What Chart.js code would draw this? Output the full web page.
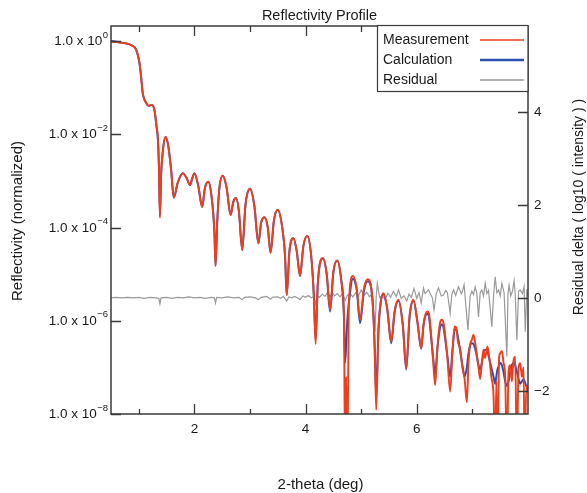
<!DOCTYPE html>
<html>
<head>
<meta charset="utf-8">
<script src="https://cdn.jsdelivr.net/npm/chart.js@4.4.1/dist/chart.umd.min.js"></script>
<style>
  html, body { margin: 0; padding: 0; background: #ffffff; }
  canvas { display: block; }
</style>
</head>
<body>
<canvas id="c" width="587" height="493"></canvas>
<script>
// ---------------- data ----------------
const chartTitle = "Reflectivity Profile";
const xTitle = "2-theta (deg)";
const yTitle = "Reflectivity (normalized)";
const y2Title = "Residual delta ( log10 ( intensity ) )";
const seriesNames = ["Measurement", "Calculation", "Residual"];

const xMajorTicks = [2, 4, 6];
const xMinorTicks = [1, 3, 5, 7];
const yLeftTicks = [1e-8, 1e-6, 1e-4, 1e-2, 1];
const yLeftTickMantissa = "1.0 x 10";
const yLeftTickExponents = ["-8", "-6", "-4", "-2", "0"];
const yRightTicks = [-2, 0, 2, 4];

const twoTheta = [
  0.50, 0.60, 0.70, 0.80, 0.88, 0.95, 1.01, 1.04, 1.07, 1.10,
  1.13, 1.16, 1.19, 1.22, 1.25, 1.29, 1.32, 1.34, 1.36, 1.38,
  1.40, 1.43, 1.48, 1.53, 1.58, 1.63, 1.70, 1.79, 1.86, 1.92,
  1.96, 2.00, 2.07, 2.14, 2.19, 2.25, 2.31, 2.36, 2.38, 2.41,
  2.45, 2.51, 2.58, 2.65, 2.70, 2.75, 2.80, 2.86, 2.92, 3.00,
  3.08, 3.15, 3.20, 3.26, 3.32, 3.37, 3.43, 3.50, 3.58, 3.63,
  3.66, 3.71, 3.78, 3.84, 3.90, 3.96, 4.03, 4.10, 4.15, 4.18,
  4.22, 4.31, 4.38, 4.44, 4.50, 4.57, 4.65, 4.69, 4.71, 4.73,
  4.75, 4.78, 4.85, 4.92, 4.98, 5.05, 5.12, 5.20, 5.24, 5.27,
  5.31, 5.35, 5.40, 5.47, 5.54, 5.60, 5.67, 5.75, 5.81, 5.87,
  5.94, 6.01, 6.08, 6.12, 6.16, 6.19, 6.22, 6.25, 6.29, 6.33,
  6.37, 6.41, 6.44, 6.47, 6.50, 6.55, 6.60, 6.64, 6.68, 6.71,
  6.74, 6.78, 6.82, 6.86, 6.90, 6.93, 6.96, 6.99, 7.02, 7.06,
  7.10, 7.14, 7.17, 7.20, 7.23, 7.27, 7.30, 7.34, 7.38, 7.41,
  7.43, 7.45, 7.48, 7.50, 7.53, 7.56, 7.59, 7.62, 7.65, 7.68,
  7.71, 7.74, 7.77, 7.80, 7.83, 7.86, 7.89, 7.92, 7.94, 7.97,
  8.00
];

const measurement = [
  0.97, 0.955, 0.912, 0.871, 0.794, 0.661, 0.347, 0.178, 0.0776, 0.0562,
  0.0479, 0.0417, 0.0407, 0.0427, 0.0417, 0.0288, 0.0141, 0.00912, 0.00251, 1.62e-4,
  1.26e-3, 4.07e-3, 8.71e-3, 5.62e-3, 1.78e-3, 4.37e-4, 9.12e-4, 1.45e-3, 1.15e-3, 8.13e-4,
  1.12e-3, 1.45e-3, 7.76e-4, 2.75e-4, 7.08e-4, 9.55e-4, 4.47e-4, 7.94e-5, 1.51e-5, 1.26e-4,
  7.08e-4, 1.29e-3, 7.08e-4, 1.86e-4, 3.55e-4, 4.27e-4, 2.24e-4, 3.31e-5, 3.16e-4, 6.76e-4,
  2.82e-4, 4.57e-5, 1.26e-4, 1.66e-4, 1.0e-4, 2.88e-5, 1.41e-4, 2.40e-4, 1.0e-4, 2.51e-5,
  3.55e-6, 3.16e-5, 5.89e-5, 3.16e-5, 9.12e-6, 3.98e-5, 6.61e-5, 2.51e-5, 3.16e-6, 3.16e-7,
  6.31e-6, 2.19e-5, 1.0e-5, 1.70e-6, 1.12e-5, 1.95e-5, 6.31e-6, 1.0e-6, 1e-9, 6.31e-8,
  1e-9, 2.51e-6, 9.12e-6, 5.01e-6, 1.05e-6, 5.01e-6, 7.76e-6, 3.16e-6, 3.16e-7, 1.23e-8,
  6.31e-7, 2.51e-6, 3.89e-6, 1.78e-6, 3.55e-7, 1.58e-6, 2.82e-6, 7.94e-7, 9.55e-8, 1.26e-6,
  2.82e-6, 1.0e-6, 2.57e-7, 7.94e-7, 1.41e-6, 1.58e-6, 1.41e-6, 6.31e-7, 1.58e-7, 4.17e-8,
  2.51e-7, 7.94e-7, 1.05e-6, 1.0e-6, 6.31e-7, 1.58e-7, 3.02e-8, 2.0e-7, 7.59e-7, 7.08e-7,
  3.55e-7, 2.51e-7, 1.0e-7, 5.62e-8, 1.78e-8, 1.26e-7, 3.16e-7, 3.89e-7, 5.01e-7, 2.82e-7,
  1.26e-7, 5.62e-8, 1.26e-7, 2.40e-7, 1.58e-7, 2.82e-7, 1.78e-7, 6.31e-8, 2.51e-8, 1e-9,
  5.01e-8, 1e-9, 1.58e-7, 2.0e-7, 2.24e-7, 1.26e-7, 6.31e-8, 1e-9, 7.94e-8, 1.12e-7,
  5.01e-8, 1.41e-7, 1.70e-7, 1e-9, 1.0e-7, 1.23e-7, 6.31e-8, 1.0e-7, 1e-9, 3.98e-8,
  3.16e-8
];

const calculation = [
  1.0, 0.96, 0.92, 0.875, 0.80, 0.665, 0.35, 0.178, 0.0776, 0.0562,
  0.0479, 0.0417, 0.0407, 0.0427, 0.0417, 0.0288, 0.0141, 0.00912, 0.00251, 1.8e-4,
  1.26e-3, 4.07e-3, 8.71e-3, 5.62e-3, 1.78e-3, 4.37e-4, 9.12e-4, 1.45e-3, 1.15e-3, 8.13e-4,
  1.12e-3, 1.45e-3, 7.76e-4, 2.75e-4, 7.08e-4, 9.55e-4, 4.47e-4, 7.94e-5, 1.51e-5, 1.26e-4,
  7.08e-4, 1.29e-3, 7.08e-4, 1.86e-4, 3.55e-4, 4.27e-4, 2.24e-4, 3.31e-5, 3.16e-4, 6.76e-4,
  2.82e-4, 4.57e-5, 1.26e-4, 1.66e-4, 1.0e-4, 2.88e-5, 1.41e-4, 2.40e-4, 1.0e-4, 2.51e-5,
  3.55e-6, 3.16e-5, 5.89e-5, 3.16e-5, 9.12e-6, 3.98e-5, 6.61e-5, 2.51e-5, 3.16e-6, 4.0e-7,
  6.31e-6, 2.19e-5, 1.0e-5, 1.58e-6, 1.12e-5, 1.95e-5, 6.0e-6, 1.26e-6, 1.26e-7, 3.16e-7,
  1.0e-6, 2.51e-6, 7.94e-6, 4.47e-6, 8.91e-7, 4.47e-6, 7.08e-6, 3.0e-6, 3.5e-7, 2.51e-8,
  6.0e-7, 2.4e-6, 3.7e-6, 1.7e-6, 3.3e-7, 1.5e-6, 2.7e-6, 7.6e-7, 9.0e-8, 1.2e-6,
  2.7e-6, 9.5e-7, 2.51e-7, 7.94e-7, 1.32e-6, 1.41e-6, 1.20e-6, 5.62e-7, 1.78e-7, 7.41e-8,
  2.51e-7, 6.31e-7, 8.32e-7, 7.94e-7, 5.01e-7, 1.78e-7, 6.31e-8, 2.24e-7, 6.31e-7, 6.61e-7,
  4.47e-7, 2.24e-7, 1.12e-7, 6.31e-8, 1.0e-7, 2.0e-7, 3.02e-7, 3.31e-7, 3.16e-7, 2.24e-7,
  1.26e-7, 8.91e-8, 1.26e-7, 2.0e-7, 2.40e-7, 2.24e-7, 1.58e-7, 1.0e-7, 6.31e-8, 4.47e-8,
  6.31e-8, 8.91e-8, 1.12e-7, 1.26e-7, 1.12e-7, 7.94e-8, 5.01e-8, 3.98e-8, 5.01e-8, 7.94e-8,
  1.12e-7, 1.26e-7, 1.12e-7, 7.94e-8, 5.62e-8, 4.47e-8, 5.01e-8, 5.62e-8, 5.01e-8, 3.98e-8,
  3.55e-8
];

const residualTheta = [
  0.50, 0.60, 0.70, 0.80, 0.90, 1.00, 1.10, 1.20, 1.30, 1.36,
  1.38, 1.40, 1.50, 1.60, 1.70, 1.80, 1.90, 2.00, 2.10, 2.20,
  2.30, 2.36, 2.38, 2.40, 2.50, 2.60, 2.70, 2.80, 2.86, 2.90,
  3.00, 3.10, 3.15, 3.20, 3.30, 3.37, 3.40, 3.50, 3.55, 3.60,
  3.66, 3.70, 3.75, 3.80, 3.85, 3.90, 3.95, 4.00, 4.05, 4.10,
  4.15, 4.18, 4.21, 4.25, 4.30, 4.35, 4.40, 4.44, 4.48, 4.52,
  4.57, 4.62, 4.67, 4.71, 4.75, 4.80, 4.85, 4.90, 4.95, 5.00,
  5.05, 5.10, 5.15, 5.20, 5.25, 5.27, 5.29, 5.33, 5.38, 5.43,
  5.48, 5.53, 5.58, 5.63, 5.67, 5.72, 5.77, 5.82, 5.86, 5.90,
  5.95, 6.00, 6.04, 6.08, 6.12, 6.15, 6.21, 6.28, 6.31, 6.35,
  6.39, 6.44, 6.48, 6.52, 6.55, 6.60, 6.63, 6.66, 6.70, 6.75,
  6.80, 6.82, 6.85, 6.92, 6.96, 6.99, 7.02, 7.05, 7.08, 7.11,
  7.14, 7.17, 7.20, 7.23, 7.26, 7.29, 7.35, 7.38, 7.41, 7.44,
  7.47, 7.50, 7.53, 7.57, 7.62, 7.64, 7.66, 7.69, 7.72, 7.75,
  7.77, 7.80, 7.83, 7.86, 7.90, 7.93, 7.95, 7.98, 8.00
];

const residual = [
  0.01, 0.02, 0.01, 0.02, 0.01, 0.02, 0.00, 0.02, 0.01, 0.00,
  -0.12, 0.01, 0.02, 0.00, 0.02, 0.01, 0.03, 0.01, 0.02, 0.00,
  0.02, 0.01, -0.10, 0.02, 0.01, 0.03, 0.01, 0.02, -0.03, 0.02,
  0.03, 0.01, -0.03, 0.02, 0.04, -0.02, 0.02, 0.03, 0.00, 0.04,
  -0.06, 0.03, 0.01, 0.04, 0.01, -0.03, 0.05, 0.02, 0.06, 0.01,
  0.04, -0.12, 0.05, 0.02, 0.09, 0.04, 0.14, 0.03, 0.12, 0.05,
  0.10, 0.03, 0.11, -0.05, 0.06, 0.10, 0.03, 0.12, 0.05, 0.18,
  0.06, 0.13, 0.03, 0.11, -0.72, 0.05, 0.32, 0.02, 0.06, -0.03,
  0.11, 0.02, 0.15, 0.04, 0.18, 0.00, 0.05, -0.06, 0.09, 0.02,
  0.21, 0.00, 0.12, -0.10, 0.22, 0.10, 0.18, 0.01, -0.25, 0.10,
  0.22, 0.05, 0.07, 0.17, 0.12, -0.32, 0.08, 0.18, 0.06, 0.25,
  0.10, 0.15, 0.29, -0.68, 0.05, 0.15, 0.08, 0.25, 0.10, -0.40,
  0.12, 0.18, 0.05, 0.32, 0.10, 0.17, -0.61, 0.05, 0.46, 0.12,
  0.18, 0.05, 0.32, 0.12, -1.25, 0.10, 0.28, 0.05, 0.15, 0.38,
  0.10, -0.90, 0.15, 0.18, 0.10, 0.25, -0.72, 0.20, 0.05
];

// ---------------- styles ----------------
const FONT = "'Liberation Sans', Arial, 'DejaVu Sans', sans-serif";
const TEXT = '#1a1a1a';
const AXIS = '#3a3a3a';
const seriesColors = ['#ee3e1e', '#2a50b0', '#9a9a9a'];
const seriesWidths = [1.9, 2.0, 1.2];

const decorPlugin = {
  id: 'decor',
  afterDraw(chart) {
    const ctx = chart.ctx;
    const {left, right, top, bottom} = chart.chartArea;
    const xs = chart.scales.x, ys = chart.scales.y, y2 = chart.scales.y2;
    ctx.save();
    ctx.strokeStyle = AXIS;
    ctx.lineWidth = 1.3;
    // inward ticks
    ctx.beginPath();
    xMajorTicks.forEach(v => {
      const p = Math.round(xs.getPixelForValue(v)) + 0.5;
      ctx.moveTo(p, bottom); ctx.lineTo(p, bottom - 10);
      ctx.moveTo(p, top); ctx.lineTo(p, top + 10);
    });
    xMinorTicks.forEach(v => {
      const p = Math.round(xs.getPixelForValue(v)) + 0.5;
      ctx.moveTo(p, bottom); ctx.lineTo(p, bottom - 5);
      ctx.moveTo(p, top); ctx.lineTo(p, top + 6);
    });
    yLeftTicks.forEach(v => {
      const p = Math.round(ys.getPixelForValue(v)) + 0.5;
      ctx.moveTo(left, p); ctx.lineTo(left + 10, p);
    });
    yRightTicks.forEach(v => {
      const p = Math.round(y2.getPixelForValue(v)) + 0.5;
      ctx.moveTo(right, p); ctx.lineTo(right - 10, p);
    });
    ctx.stroke();
    // frame
    ctx.lineWidth = 1.5;
    ctx.strokeRect(left, top, right - left, bottom - top);

    // left tick labels: mantissa + raised exponent
    ctx.fillStyle = TEXT;
    ctx.textBaseline = 'middle';
    yLeftTicks.forEach((v, i) => {
      const p = ys.getPixelForValue(v);
      const expo = yLeftTickExponents[i].replace('-', '\u2212');
      ctx.font = '9.5px ' + FONT;
      const ew = ctx.measureText(expo).width;
      ctx.textAlign = 'left';
      const ex = left - 3 - ew;
      ctx.fillText(expo, ex, p - 6);
      ctx.font = '13.5px ' + FONT;
      ctx.textAlign = 'right';
      ctx.fillText(yLeftTickMantissa, ex - 0.5, p + 0.5);
    });

    // legend
    const lx = 377, ly = 25, lw = right - 377, lh = 66;
    ctx.fillStyle = '#ffffff';
    ctx.fillRect(lx, ly, lw, lh);
    ctx.lineWidth = 1.2;
    ctx.strokeStyle = AXIS;
    ctx.strokeRect(lx + 0.5, ly + 0.5, lw - 0.5, lh);
    ctx.font = '14px ' + FONT;
    ctx.textBaseline = 'middle';
    ctx.textAlign = 'left';
    chart.data.datasets.forEach((ds, i) => {
      const yy = 40 + i * 20;
      ctx.fillStyle = TEXT;
      ctx.fillText(ds.label, 383, yy);
      ctx.strokeStyle = ds.borderColor;
      ctx.lineWidth = i === 1 ? 2.4 : 1.4;
      ctx.beginPath();
      ctx.moveTo(480, yy); ctx.lineTo(524, yy);
      ctx.stroke();
    });

    // titles
    ctx.fillStyle = TEXT;
    ctx.font = '14.5px ' + FONT;
    ctx.textAlign = 'center';
    ctx.textBaseline = 'middle';
    ctx.fillText(chartTitle, (left + right) / 2, 16);
    ctx.font = '15px ' + FONT;
    ctx.fillText(xTitle, (left + right) / 2 + 1, 485);
    ctx.save();
    ctx.translate(18, 221);
    ctx.rotate(-Math.PI / 2);
    ctx.fillText(yTitle, 0, 0);
    ctx.restore();
    ctx.font = '14px ' + FONT;
    ctx.save();
    ctx.translate(579, 207);
    ctx.rotate(-Math.PI / 2);
    ctx.fillText(y2Title, 0, 0);
    ctx.restore();
    ctx.restore();
  }
};

const pts = (xa, ya) => xa.map((x, i) => ({x: x, y: ya[i]}));

new Chart(document.getElementById('c'), {
  type: 'line',
  data: {
    datasets: [
      {label: seriesNames[0], data: pts(twoTheta, measurement), yAxisID: 'y',
       borderColor: seriesColors[0], borderWidth: seriesWidths[0], pointRadius: 0,
       cubicInterpolationMode: 'monotone', fill: false},
      {label: seriesNames[1], data: pts(twoTheta, calculation), yAxisID: 'y',
       borderColor: seriesColors[1], borderWidth: seriesWidths[1], pointRadius: 0,
       cubicInterpolationMode: 'monotone', fill: false},
      {label: seriesNames[2], data: pts(residualTheta, residual), yAxisID: 'y2',
       borderColor: seriesColors[2], borderWidth: seriesWidths[2], pointRadius: 0,
       tension: 0, fill: false}
    ]
  },
  options: {
    responsive: false,
    animation: false,
    devicePixelRatio: 1,
    layout: {padding: {top: 26, left: 0, right: 0, bottom: 0}},
    plugins: {legend: {display: false}, title: {display: false}, tooltip: {enabled: false}},
    events: [],
    scales: {
      x: {
        type: 'linear', position: 'bottom', min: 0.5, max: 8.0,
        grid: {display: false, drawTicks: false}, border: {display: false},
        afterBuildTicks: s => { s.ticks = xMajorTicks.map(v => ({value: v})); },
        ticks: {font: {size: 13.5, family: FONT}, color: TEXT, padding: 7, maxRotation: 0,
                callback: v => String(v)},
        afterFit: s => { s.height = 79; }
      },
      y: {
        type: 'logarithmic', position: 'left', min: 1e-8, max: 2.1,
        grid: {display: false, drawTicks: false}, border: {display: false},
        afterBuildTicks: s => { s.ticks = yLeftTicks.map(v => ({value: v})); },
        ticks: {display: false},
        afterFit: s => { s.width = 111; }
      },
      y2: {
        type: 'linear', position: 'right', min: -2.49, max: 5.86,
        grid: {display: false, drawTicks: false}, border: {display: false},
        afterBuildTicks: s => { s.ticks = yRightTicks.map(v => ({value: v})); },
        ticks: {font: {size: 13.5, family: FONT}, color: TEXT, padding: 6,
                callback: v => (v < 0 ? '\u2212' + Math.abs(v) : String(v))},
        afterFit: s => { s.width = 59; }
      }
    }
  },
  plugins: [decorPlugin]
});
</script>
</body>
</html>
